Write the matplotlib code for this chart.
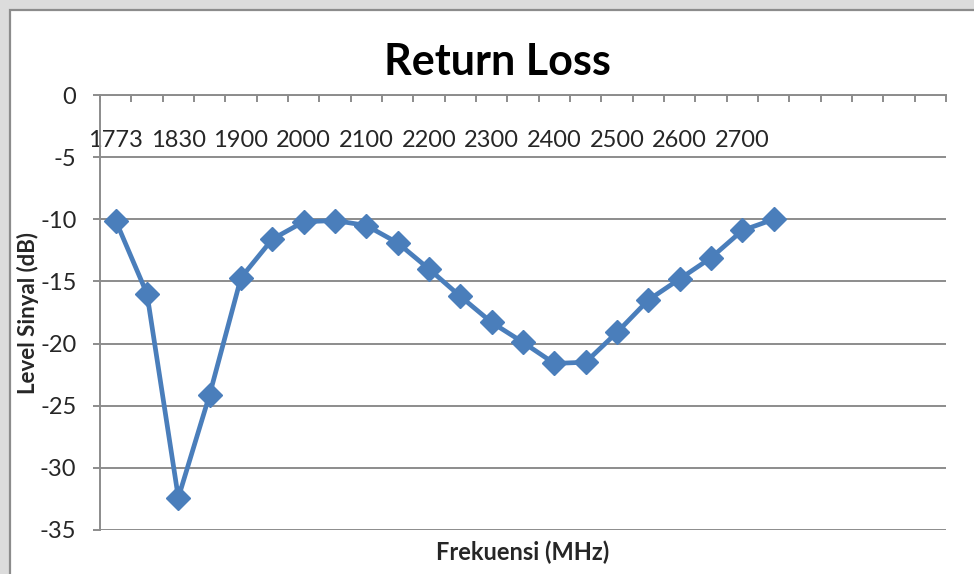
import matplotlib
matplotlib.use("Agg")
import matplotlib.pyplot as plt
from matplotlib.patches import Rectangle
from matplotlib.ticker import FixedLocator, NullFormatter

plt.rcParams['font.family'] = ['Lato', 'DejaVu Sans']
plt.rcParams['axes.unicode_minus'] = False

# Frequency categories (MHz) and measured return loss (dB)
freq_labels = ["1773", "1800", "1830", "1850", "1900", "1950", "2000", "2050",
               "2100", "2150", "2200", "2250", "2300", "2350", "2400", "2450",
               "2500", "2550", "2600", "2650", "2700", "2750"]
return_loss = [-10.1, -16.0, -32.4, -24.1, -14.7, -11.6, -10.2, -10.1,
               -10.5, -11.9, -14.0, -16.2, -18.3, -19.9, -21.6, -21.5,
               -19.1, -16.5, -14.8, -13.1, -10.9, -10.0]
n_slots = 27          # category slots on the axis (trailing ones are empty)
y_ticks = [0, -5, -10, -15, -20, -25, -30, -35]

W, H = 974, 574
fig = plt.figure(figsize=(W / 100, H / 100), dpi=100)
fig.patch.set_facecolor("#dcdcdc")

# white chart area with a grey border
fig.add_artist(Rectangle((10 / W, -0.05), 1.2, 1 - 10 / H + 0.05,
                         transform=fig.transFigure, facecolor="white",
                         edgecolor="#8c8c8c", linewidth=1.6, zorder=0))

left, right = 100 / W, 946 / W
top, bottom = 1 - 95 / H, 1 - 530 / H
ax = fig.add_axes([left, bottom, right - left, top - bottom])
ax.set_facecolor("none")

x = list(range(len(return_loss)))
ax.plot(x, return_loss, color="#4a7ebb", linewidth=3.4, marker="D",
        markersize=12.5, markeredgecolor="#4a7ebb", markerfacecolor="#4a7ebb",
        zorder=5, clip_on=False)

ax.set_xlim(-0.5, n_slots - 0.5)
ax.set_ylim(-35, 0)

# horizontal gridlines
ax.set_yticks(y_ticks)
ax.set_yticklabels([str(v) for v in y_ticks])
ax.grid(axis="y", color="#8c8c8c", linewidth=1.4)
ax.set_axisbelow(True)

# category axis drawn at y = 0
for s in ("right", "top"):
    ax.spines[s].set_visible(False)
ax.spines["bottom"].set_position(("data", 0))
ax.spines["bottom"].set_color("#8c8c8c")
ax.spines["bottom"].set_linewidth(1.4)
ax.spines["left"].set_color("#8c8c8c")
ax.spines["left"].set_linewidth(1.4)

label_pos = x[::2]
ax.xaxis.set_major_locator(FixedLocator(label_pos))
ax.set_xticklabels(freq_labels[::2])
ax.xaxis.set_minor_locator(FixedLocator([i - 0.5 for i in range(n_slots + 1)]))
ax.xaxis.set_minor_formatter(NullFormatter())
ax.tick_params(axis="x", which="major", length=0, pad=25, labelsize=17,
               labelcolor="#262626")
ax.tick_params(axis="x", which="minor", direction="out", length=5,
               width=1.4, color="#8c8c8c")
ax.tick_params(axis="y", which="major", direction="out", length=5,
               width=1.4, color="#8c8c8c", pad=12, labelsize=17,
               labelcolor="#262626")

fig.text(497 / W, 1 - 62 / H, "Return Loss", ha="center", va="center",
         fontsize=31, fontweight="bold", color="black")
fig.text(523 / W, 1 - 552 / H, "Frekuensi (MHz)", ha="center", va="center",
         fontsize=17, fontweight="bold", color="#262626")
fig.text(28 / W, 1 - 313 / H, "Level Sinyal (dB)", ha="center", va="center",
         rotation=90, fontsize=16, fontweight="bold", color="#262626")

fig.savefig("out.png", dpi=100, facecolor=fig.get_facecolor())
